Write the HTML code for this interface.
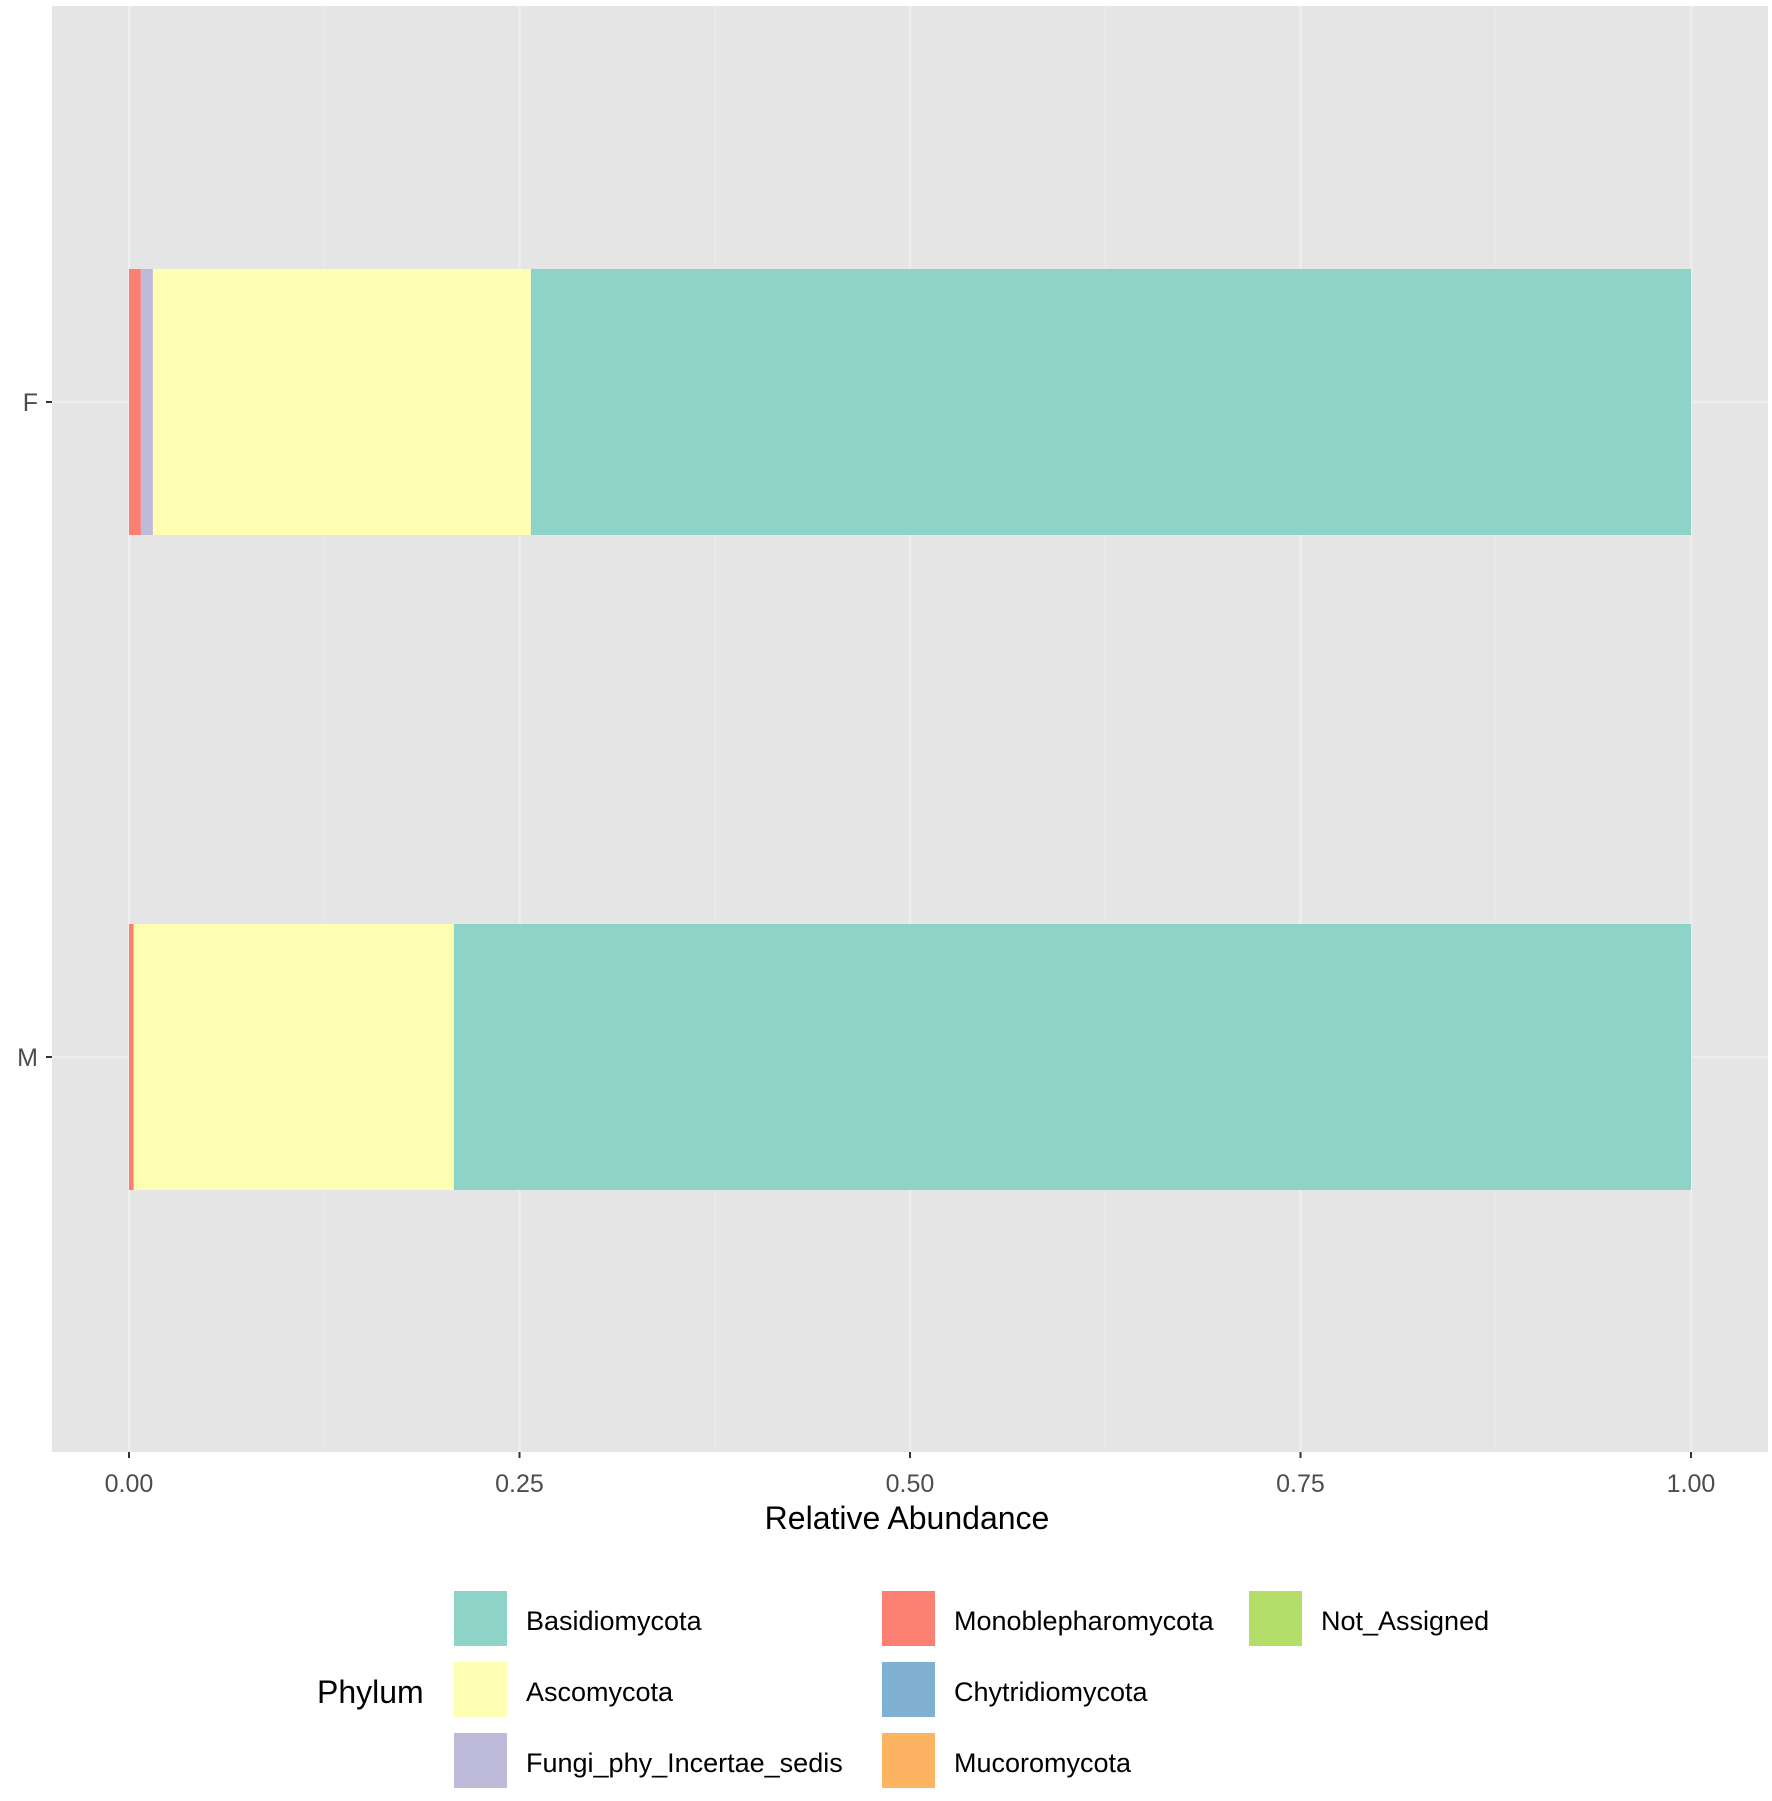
<!DOCTYPE html>
<html><head><meta charset="utf-8"><style>
body{margin:0;background:#fff;}
svg text{font-family:"Liberation Sans",sans-serif;}
</style></head><body>
<svg id="chart" width="1772" height="1796" viewBox="0 0 1772 1796" xmlns="http://www.w3.org/2000/svg">
<rect x="52" y="6" width="1716" height="1446" fill="#e5e5e5"/>
<g id="grid"></g><g id="bars"></g><g id="axes"></g><g id="legend"></g>
</svg>
<script>
const categories = ["F","M"];
const phyla = ["Monoblepharomycota","Fungi_phy_Incertae_sedis","Ascomycota","Basidiomycota"];
const valsMono = [0.0076, 0.003];
const valsFungi = [0.0077, 0.0];
const valsAsco = [0.242, 0.205];
const valsBasidio = [0.7427, 0.792];
const xTicks = [0, 0.25, 0.5, 0.75, 1];
const xTickLabels = ["0.00","0.25","0.50","0.75","1.00"];
const colors = {"Basidiomycota":"#8dd3c7","Ascomycota":"#ffffb3","Fungi_phy_Incertae_sedis":"#bebada","Monoblepharomycota":"#fb8072","Chytridiomycota":"#80b1d3","Mucoromycota":"#fdb462","Not_Assigned":"#b3de69"};
const legendCols = [["Basidiomycota","Ascomycota","Fungi_phy_Incertae_sedis"],["Monoblepharomycota","Chytridiomycota","Mucoromycota"],["Not_Assigned"]];
const NS="http://www.w3.org/2000/svg";
const x = v => 129 + v*1562;
const yCenter = {"F":402,"M":1057};
const barH = 266;
function mk(tag, attrs, parent){const e=document.createElementNS(NS,tag);for(const k in attrs)e.setAttribute(k,attrs[k]);parent.appendChild(e);return e;}
const grid=document.getElementById('grid'), bars=document.getElementById('bars'), axes=document.getElementById('axes'), leg=document.getElementById('legend');
for(let i=0;i<xTicks.length-1;i++){
  const m=mk('line',{x1:x((xTicks[i]+xTicks[i+1])/2),x2:x((xTicks[i]+xTicks[i+1])/2),y1:6,y2:1452,stroke:'#e9e9e9','stroke-width':1.5},grid);
  
  
}
xTicks.forEach((t,i)=>{
  const g=mk('line',{x1:x(t),x2:x(t),y1:6,y2:1452,stroke:'#eeeeee','stroke-width':2.5},grid);
  
  
  const tk=mk('line',{x1:x(t),x2:x(t),y1:1452,y2:1458,stroke:'#333','stroke-width':2},axes);
  
  
  const tl=mk('text',{x:x(t),y:1492,'text-anchor':'middle','font-size':25,fill:'#4d4d4d'},axes);
  tl.textContent=xTickLabels[i];
  
  
});
const series={"Monoblepharomycota":valsMono,"Fungi_phy_Incertae_sedis":valsFungi,"Ascomycota":valsAsco,"Basidiomycota":valsBasidio};
categories.forEach((c,ci)=>{
  const yc=yCenter[c];
  const gl=mk('line',{x1:52,x2:1768,y1:yc,y2:yc,stroke:'#eeeeee','stroke-width':2.5},grid);
  
  
  let acc=0;
  phyla.forEach(p=>{
    const v=series[p][ci];
    if(v>0){
      const r=mk('rect',{x:x(acc),y:yc-barH/2,width:x(acc+v)-x(acc),height:barH,fill:colors[p]},bars);
      
      
    }
    acc+=v;
  });
  const tk=mk('line',{x1:46,x2:52,y1:yc,y2:yc,stroke:'#333','stroke-width':2},axes);
  
  
  const tl=mk('text',{x:38,y:yc+9,'text-anchor':'end','font-size':25,fill:'#4d4d4d'},axes);
  tl.textContent=c;
  
  
});
const at=mk('text',{x:907,y:1529,'text-anchor':'middle','font-size':32,fill:'#000'},axes);
at.textContent='Relative Abundance';


const lt=mk('text',{x:317,y:1703,'font-size':32,fill:'#000'},leg);
lt.textContent='Phylum';


const colX=[454,882,1249], rowY=[1591,1662,1733];
legendCols.forEach((col,ci)=>col.forEach((p,ri)=>{
  const k=mk('rect',{x:colX[ci],y:rowY[ri],width:53,height:55,fill:colors[p]},leg);
  
  
  const t=mk('text',{x:colX[ci]+72,y:rowY[ri]+39,'font-size':27,fill:'#000'},leg);
  t.textContent=p;
  
  
}));
</script>
</body></html>
